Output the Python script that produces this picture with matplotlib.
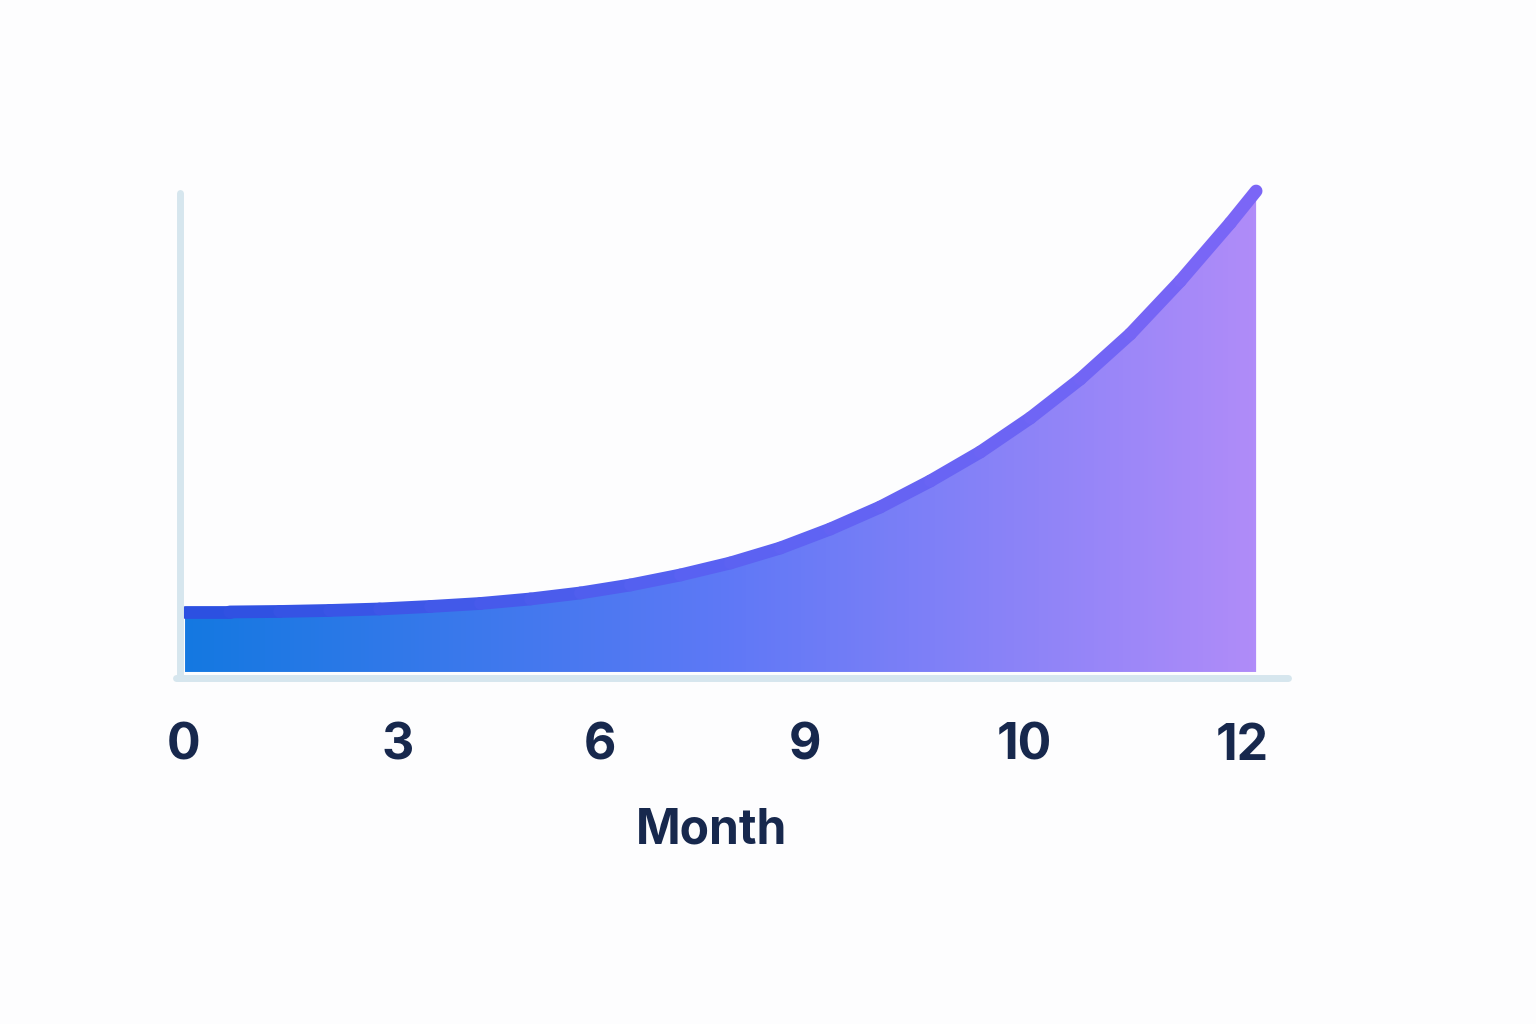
import numpy as np
import matplotlib.pyplot as plt
from matplotlib.colors import LinearSegmentedColormap
from matplotlib.collections import LineCollection

plt.rcParams['font.family'] = ['Inter', 'DejaVu Sans']

# growth curve (month, value)
months = [0, 0.50, 1.06, 1.62, 2.18, 2.75, 3.31, 3.87, 4.43, 4.99, 5.55, 6.11,
          6.67, 7.23, 7.79, 8.35, 8.91, 9.47, 10.03, 10.59, 11.15, 11.71, 12]
values = [60, 60, 60.5, 61.5, 63, 65.5, 68.5, 73, 79, 87, 97, 109,
          124, 143, 165, 191, 220, 254, 293, 338, 391, 449, 481]

tick_labels = ["0", "3", "6", "9", "10", "12"]
tick_pos = [-0.02, 2.38, 4.65, 6.95, 9.40, 11.85]

bg = "#fdfdfe"
axis_col = "#d6e6ee"
text_col = "#17284d"

fill_cmap = LinearSegmentedColormap.from_list(
    "fill", ["#1479e1", "#5e78f6", "#b08cf9"])
line_cmap = LinearSegmentedColormap.from_list(
    "line", ["#2a4fe0", "#5a62f2", "#7c66f6"])

fig = plt.figure(figsize=(15.36, 10.24), dpi=100, facecolor=bg)
ax = fig.add_axes([0.1146, 0.335, 0.7266, 0.4814])
ax.set_facecolor(bg)
ax.set_xlim(-0.101, 12.403)
ax.set_ylim(-9, 484)
for s in ax.spines.values():
    s.set_visible(False)

x = np.array(months)
y = np.array(values)

# gradient area under the curve
poly = ax.fill_between(x, 0, y, color="none", lw=0)
grad = np.linspace(0, 1, 256).reshape(1, -1)
im = ax.imshow(grad, cmap=fill_cmap, extent=[x[0], x[-1], 0, y.max()],
               aspect="auto", origin="lower", zorder=1)
im.set_clip_path(poly.get_paths()[0], transform=ax.transData)

# gradient line on top
pts = np.column_stack([x, y]).reshape(-1, 1, 2)
segs = np.concatenate([pts[:-1], pts[1:]], axis=1)
lc = LineCollection(segs, cmap=line_cmap, linewidths=9.2, capstyle="round",
                    joinstyle="round", zorder=2)
lc.set_array((x[:-1] + x[1:]) / 24)
lc.set_clim(0, 1)
lc.set_clip_on(False)
ax.add_collection(lc)

# light axis lines
ax.plot([0.0036, 0.0036], [0.006, 0.99], transform=ax.transAxes, color=axis_col,
        lw=5, solid_capstyle="round", clip_on=False, zorder=3)
ax.plot([0.0, 0.9964], [0.006, 0.006], transform=ax.transAxes, color=axis_col,
        lw=5, solid_capstyle="round", clip_on=False, zorder=3)

ax.set_yticks([])
ax.set_xticks(tick_pos)
ax.set_xticklabels(tick_labels, fontsize=36, fontweight="bold", color=text_col)
ax.tick_params(axis="x", length=0, pad=30)

fig.text(712 / 1536, 1 - 830 / 1024, "Month", ha="center", va="center",
         fontsize=34.5, fontweight="bold", color=text_col)

fig.savefig("out.png", dpi=100, facecolor=bg)
